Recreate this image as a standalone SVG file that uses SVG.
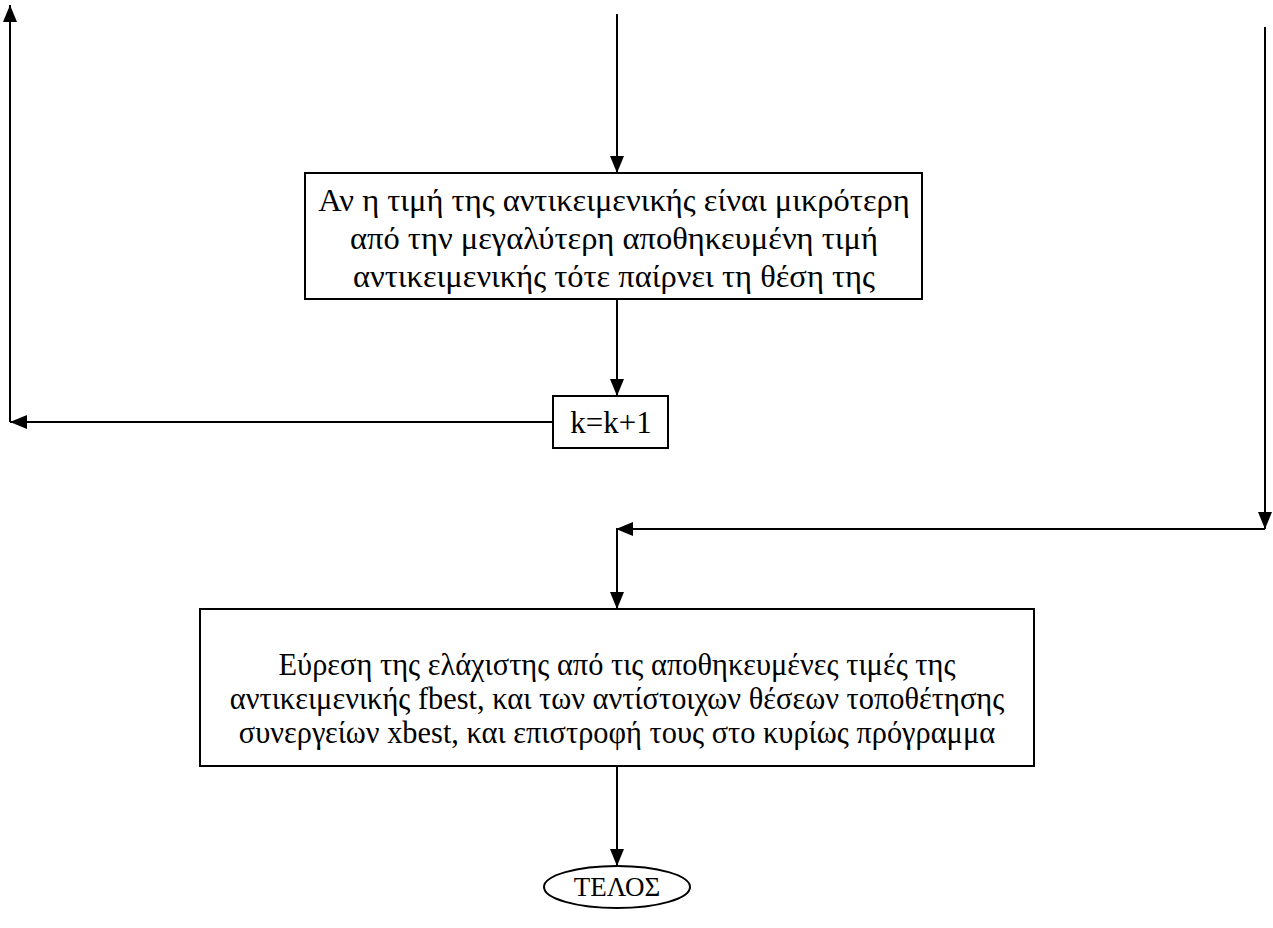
<svg xmlns="http://www.w3.org/2000/svg" width="1273" height="928" viewBox="0 0 1273 928">
  <style>
    .box { fill: #fff; stroke: #000; stroke-width: 2; }
    .wire { fill: none; stroke: #000; stroke-width: 2; }
  </style>
  <defs>
    <marker id="arr" viewBox="0 0 17 14" refX="17" refY="7" markerWidth="17" markerHeight="14" markerUnits="userSpaceOnUse" orient="auto">
      <path d="M0,0 L17,7 L0,14 Z" fill="#000"/>
    </marker>
  </defs>

  <g id="connectors">
    <!-- incoming flow from above -->
    <line class="wire" x1="617" y1="14" x2="617" y2="173" marker-end="url(#arr)"/>
    <!-- comparison box to counter -->
    <line class="wire" x1="617" y1="299" x2="617" y2="396" marker-end="url(#arr)"/>
    <!-- loop back: counter to left return line -->
    <line class="wire" x1="553" y1="422" x2="10" y2="422" marker-end="url(#arr)"/>
    <line class="wire" x1="10" y1="422" x2="10" y2="5" marker-end="url(#arr)"/>
    <!-- exit branch on the right -->
    <line class="wire" x1="1265" y1="27" x2="1265" y2="529" marker-end="url(#arr)"/>
    <line class="wire" x1="1265" y1="529" x2="616" y2="529" marker-end="url(#arr)"/>
    <line class="wire" x1="617" y1="529" x2="617" y2="609" marker-end="url(#arr)"/>
    <!-- result box to end -->
    <line class="wire" x1="617" y1="766" x2="617" y2="866" marker-end="url(#arr)"/>
  </g>

  <g font-family="'Liberation Serif', 'Times New Roman', serif" font-size="32.5" fill="#000" text-anchor="middle">
    <g id="compare">
      <rect class="box" x="305" y="173" width="617" height="126"/>
      <text x="614" y="211">Αν η τιμή της αντικειμενικής είναι μικρότερη</text>
      <text x="614" y="249">από την μεγαλύτερη αποθηκευμένη τιμή</text>
      <text x="614" y="287">αντικειμενικής τότε παίρνει τη θέση της</text>
    </g>

    <g id="counter">
      <rect class="box" x="553" y="396" width="115" height="52"/>
      <text x="611" y="433" font-size="31">k=k+1</text>
    </g>

    <g id="result">
      <rect class="box" x="200" y="609" width="834" height="157"/>
      <!-- slightly condensed lettering inside the wide box -->
      <g transform="translate(617 0) scale(0.95 1) translate(-617 0)" font-size="32">
        <text x="617" y="675">Εύρεση της ελάχιστης από τις αποθηκευμένες τιμές της</text>
        <text x="617" y="709">αντικειμενικής fbest, και των αντίστοιχων θέσεων τοποθέτησης</text>
        <text x="617" y="743">συνεργείων xbest, και επιστροφή τους στο κυρίως πρόγραμμα</text>
      </g>
    </g>

    <g id="end">
      <ellipse class="box" cx="617" cy="887" rx="73" ry="21"/>
      <text x="617" y="896" font-size="27">ΤΕΛΟΣ</text>
    </g>
  </g>
</svg>
